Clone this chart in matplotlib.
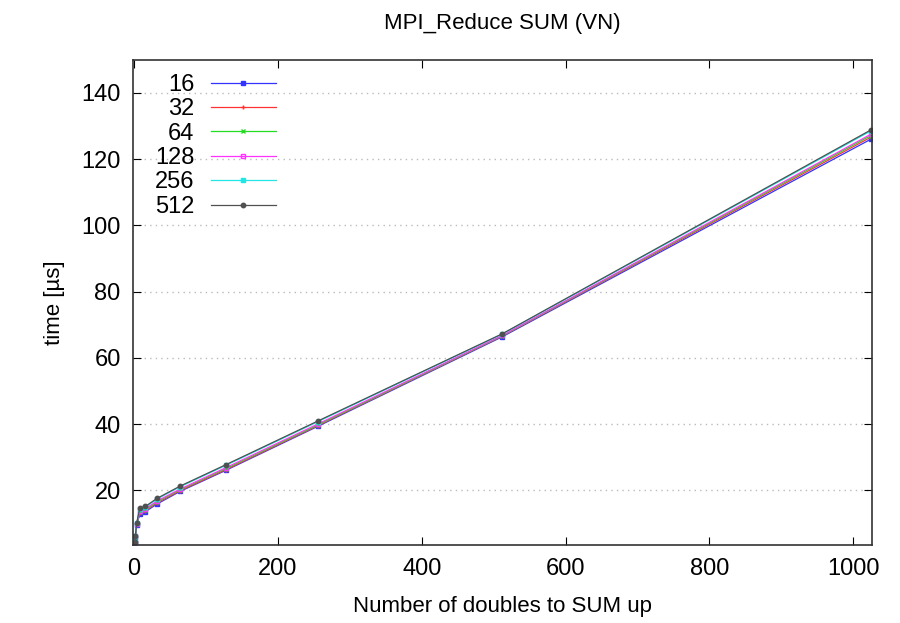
import matplotlib
matplotlib.use("Agg")
import matplotlib.pyplot as plt

plt.rcParams['font.family'] = ['Liberation Sans', 'DejaVu Sans']

# message sizes (number of doubles)
sizes = [1, 2, 4, 8, 16, 32, 64, 128, 256, 512, 1024]

# time [us] per process count
t16 = [4.0, 5.8, 9.6, 12.8, 13.6, 15.9, 19.7, 26.1, 39.4, 66.4, 126.0]
t32 = [4.1, 6.0, 9.8, 13.2, 13.9, 16.2, 19.9, 26.3, 39.6, 66.6, 126.6]
t64 = [4.2, 6.1, 9.9, 13.6, 14.2, 16.5, 20.2, 26.6, 39.8, 66.7, 127.1]
t128 = [4.2, 6.2, 10.0, 13.8, 14.5, 16.8, 20.4, 26.9, 40.1, 66.8, 127.5]
t256 = [4.3, 6.3, 10.2, 14.4, 15.0, 17.4, 21.1, 27.6, 40.8, 67.2, 128.5]
t512 = [4.4, 6.4, 10.3, 14.6, 15.2, 17.6, 21.3, 27.8, 41.0, 67.3, 128.8]

labels = ['16', '32', '64', '128', '256', '512']
colors = ['#3333ff', '#ff3333', '#22dd22', '#ff33ff', '#22e5e5', '#505050']
markers = ['s', '+', 'x', 's', 's', 'o']
series = [t16, t32, t64, t128, t256, t512]

fig = plt.figure(figsize=(9, 6.23), dpi=100)
ax = fig.add_axes([0.148, 0.125, 0.821, 0.779])

for ys, lab, col, mk in zip(series, labels, colors, markers):
    filled = 'none' if lab == '128' else col
    ax.plot(sizes, ys, color=col, lw=0.9, marker=mk, ms=3.2,
            mfc=filled, mec=col, mew=1.0, label=lab)

ax.set_xlim(-1, 1026)
ax.set_ylim(3.5, 150)
ax.set_xticks([0, 200, 400, 600, 800, 1000])
ax.set_yticks([20, 40, 60, 80, 100, 120, 140])
ax.yaxis.grid(True, linestyle=(0, (1, 3)), color='#bbbbbb', lw=1)
ax.tick_params(direction='in', top=True, right=True, length=6,
               labelsize=17, pad=9)
for s in ax.spines.values():
    s.set_linewidth(1.2)
    s.set_color('#333333')

ax.set_title('MPI_Reduce SUM (VN)', fontsize=16, pad=22)
ax.set_xlabel('Number of doubles to SUM up', fontsize=16, labelpad=12)
ax.set_ylabel('time [µs]', fontsize=16, labelpad=12)

ax.legend(loc='upper left', frameon=False, markerfirst=False, fontsize=17,
          handlelength=2.75, labelspacing=0.1, borderaxespad=0.2,
          bbox_to_anchor=(0.01, 1.0), handletextpad=0.7)

fig.savefig('out.png', dpi=100)
